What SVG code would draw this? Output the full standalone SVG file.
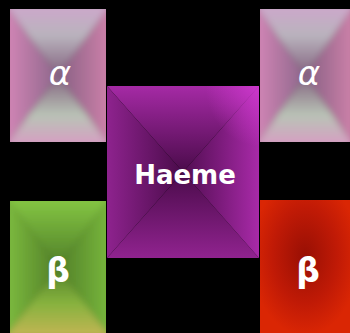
<svg xmlns="http://www.w3.org/2000/svg" width="350" height="333" viewBox="0 0 350 333">
<style>
.lbl{fill:#fff;text-anchor:middle;font-family:"DejaVu Sans",sans-serif}
.gr{font-style:italic;font-size:34px}
.be{font-size:33px;font-weight:bold}
.hm{font-size:26px;font-weight:bold}
.soft{filter:url(#blur)}
</style>
<defs>
<filter id="blur" x="-10%" y="-10%" width="120%" height="120%"><feGaussianBlur stdDeviation="3"/></filter>
<clipPath id="cA1"><rect x="10" y="9" width="96" height="133"/></clipPath>
<clipPath id="cA2"><rect x="260" y="9" width="90" height="133"/></clipPath>
<clipPath id="cG"><rect x="10" y="201" width="96" height="132"/></clipPath>
<linearGradient id="aT" x1="0" y1="0" x2="0" y2="1"><stop offset="0" stop-color="#cfa6cc"/><stop offset="0.45" stop-color="#b9b3bd"/><stop offset="1" stop-color="#83637f"/></linearGradient>
<linearGradient id="aB" x1="0" y1="1" x2="0" y2="0"><stop offset="0" stop-color="#d99ac4"/><stop offset="0.45" stop-color="#b9c3b6"/><stop offset="1" stop-color="#83637f"/></linearGradient>
<linearGradient id="aL" x1="0" y1="0" x2="1" y2="0"><stop offset="0" stop-color="#d687b8"/><stop offset="1" stop-color="#8d678b"/></linearGradient>
<linearGradient id="aR" x1="1" y1="0" x2="0" y2="0"><stop offset="0" stop-color="#d283ac"/><stop offset="1" stop-color="#866083"/></linearGradient>
<linearGradient id="hT" x1="0" y1="0" x2="0" y2="1"><stop offset="0" stop-color="#a52aa5"/><stop offset="1" stop-color="#4a0b4a"/></linearGradient>
<linearGradient id="hB" x1="0" y1="1" x2="0" y2="0"><stop offset="0" stop-color="#90238f"/><stop offset="1" stop-color="#4a0b4a"/></linearGradient>
<linearGradient id="hL" x1="0" y1="0" x2="1" y2="0"><stop offset="0" stop-color="#8e238e"/><stop offset="1" stop-color="#4a0b4a"/></linearGradient>
<linearGradient id="hR" x1="1" y1="0" x2="0" y2="0"><stop offset="0" stop-color="#a82aa8"/><stop offset="1" stop-color="#510d51"/></linearGradient>
<radialGradient id="hC" cx="1" cy="0" r="0.35"><stop offset="0" stop-color="#d23ad2" stop-opacity="0.85"/><stop offset="1" stop-color="#d23ad2" stop-opacity="0"/></radialGradient>
<linearGradient id="gT" x1="0" y1="0" x2="0" y2="1"><stop offset="0" stop-color="#88ca45"/><stop offset="1" stop-color="#507f28"/></linearGradient>
<linearGradient id="gB" x1="0" y1="1" x2="0" y2="0"><stop offset="0" stop-color="#c8b656"/><stop offset="0.5" stop-color="#86b23e"/><stop offset="1" stop-color="#507f28"/></linearGradient>
<linearGradient id="gL" x1="0" y1="0" x2="1" y2="0"><stop offset="0" stop-color="#7fbe40"/><stop offset="1" stop-color="#527f28"/></linearGradient>
<linearGradient id="gR" x1="1" y1="0" x2="0" y2="0"><stop offset="0" stop-color="#7aba3e"/><stop offset="1" stop-color="#527f28"/></linearGradient>
<radialGradient id="rC" cx="0.5" cy="0.42" r="0.6"><stop offset="0" stop-color="#980f04"/><stop offset="0.6" stop-color="#c01a06"/><stop offset="1" stop-color="#da2604"/></radialGradient>
</defs>
<rect width="350" height="333" fill="#000"/>
<g id="alpha-left">
<g clip-path="url(#cA1)"><g class="soft">
<polygon points="4,3 112,3 58,75.5" fill="url(#aT)"/>
<polygon points="4,148 112,148 58,75.5" fill="url(#aB)"/>
<polygon points="4,3 4,148 58,75.5" fill="url(#aL)"/>
<polygon points="112,3 112,148 58,75.5" fill="url(#aR)"/>
</g></g>
<text class="lbl gr" x="60" y="85">α</text>
</g>
<g id="alpha-right">
<g clip-path="url(#cA2)"><g class="soft">
<polygon points="254,3 356,3 305,75.5" fill="url(#aT)"/>
<polygon points="254,148 356,148 305,75.5" fill="url(#aB)"/>
<polygon points="254,3 254,148 305,75.5" fill="url(#aL)"/>
<polygon points="356,3 356,148 305,75.5" fill="url(#aR)"/>
</g></g>
<text class="lbl gr" x="309" y="85">α</text>
</g>
<g id="haeme">
<polygon points="107,86 259,86 183,172" fill="url(#hT)"/>
<polygon points="107,258 259,258 183,172" fill="url(#hB)"/>
<polygon points="107,86 107,258 183,172" fill="url(#hL)"/>
<polygon points="259,86 259,258 183,172" fill="url(#hR)"/>
<rect x="107" y="86" width="152" height="172" fill="url(#hC)"/>
<text class="lbl hm" x="185" y="184">Haeme</text>
</g>
<g id="beta-left">
<g clip-path="url(#cG)"><g class="soft">
<polygon points="4,195 112,195 58,267" fill="url(#gT)"/>
<polygon points="4,339 112,339 58,267" fill="url(#gB)"/>
<polygon points="4,195 4,339 58,267" fill="url(#gL)"/>
<polygon points="112,195 112,339 58,267" fill="url(#gR)"/>
</g></g>
<text class="lbl be" x="58" y="282">β</text>
</g>
<g id="beta-right">
<rect x="260" y="200" width="90" height="133" fill="url(#rC)"/>
<text class="lbl be" x="308" y="282">β</text>
</g>
</svg>
